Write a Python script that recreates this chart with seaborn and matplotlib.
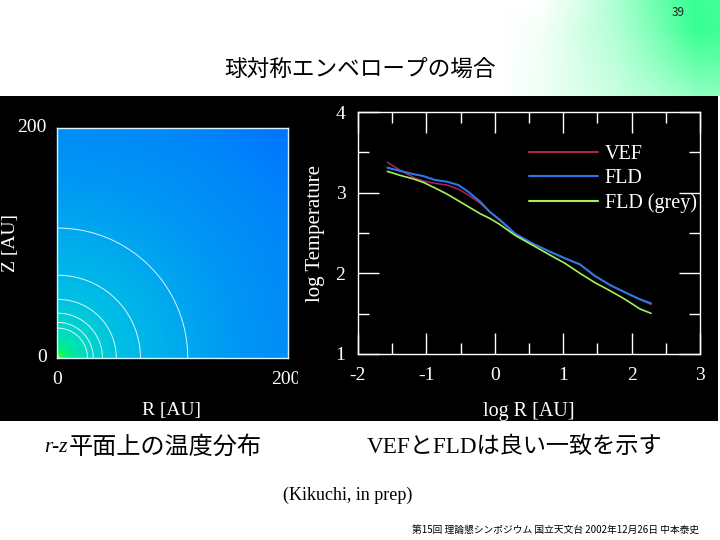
import numpy as np
import pandas as pd
import matplotlib
matplotlib.use("Agg")
import matplotlib.pyplot as plt
from matplotlib.colors import LinearSegmentedColormap
from matplotlib.patches import Rectangle
import seaborn as sns

# ---- data ----
log_r = [-1.57, -1.386, -1.19, -1.045, -0.874, -0.70, -0.533, -0.387, -0.216, -0.07, 0.066,
         0.3, 0.55, 0.807, 1.026, 1.246, 1.465, 1.684, 1.904, 2.123, 2.284]
vef = [3.376, 3.28, 3.19, 3.145, 3.115, 3.095, 3.045, 2.97, 2.87, 2.76, 2.66,
       2.49, 2.37, 2.268, 2.186, 2.11, 1.967, 1.855, 1.764, 1.675, 1.615]
fld = [3.31, 3.27, 3.23, 3.206, 3.157, 3.136, 3.095, 3.01, 2.89, 2.76, 2.67,
       2.49, 2.37, 2.268, 2.186, 2.11, 1.967, 1.855, 1.764, 1.678, 1.628]
grey = [3.264, 3.215, 3.17, 3.128, 3.058, 2.983, 2.90, 2.826, 2.74, 2.68, 2.61,
        2.47, 2.35, 2.227, 2.124, 2.0, 1.884, 1.785, 1.678, 1.558, 1.504]
series_names = ["VEF", "FLD", "FLD (grey)"]
series_colors = ["#b0205e", "#2a78e6", "#a8f05a"]
series_widths = [1.1, 1.5, 1.2]

map_radius = [0, 2, 4, 8, 15, 26, 50, 80, 115, 160, 220, 285]
map_level = [1.0, 0.95, 0.88, 0.78, 0.70, 0.62, 0.53, 0.46, 0.39, 0.3, 0.18, 0.0]
contour_radii = [26, 31, 39, 51, 72, 113]
map_colors = [(0.0, "#0073ff"), (0.3, "#0096f5"), (0.5, "#00bce8"), (0.62, "#00d8c8"),
              (0.75, "#00f090"), (0.88, "#20ff40"), (1.0, "#e8e830")]

bg_x = [500, 540, 580, 620, 660, 695, 720]
bg_y = [0, 30, 60, 96]
bg_green = [[0.00, 0.00, 0.14, 0.35, 0.60, 0.78, 0.72],
            [0.00, 0.04, 0.18, 0.32, 0.55, 0.78, 0.76],
            [0.00, 0.05, 0.16, 0.28, 0.45, 0.62, 0.64],
            [0.00, 0.06, 0.14, 0.22, 0.32, 0.42, 0.45]]

W, H = 720, 540
SERIF = "Liberation Serif"
CJK = ["Noto Sans CJK JP", "DejaVu Sans"]
MIXED = [SERIF, "Noto Sans CJK JP"]

sns.set_theme(style="white", rc={"axes.facecolor": "black", "axes.unicode_minus": False})


def box(l, t, r, b):
    return [l / W, 1 - b / H, (r - l) / W, (b - t) / H]


def ftext(x, y, s, **kw):
    kw.setdefault("va", "center")
    return fig.text(x / W, 1 - y / H, s, **kw)


fig = plt.figure(figsize=(7.2, 5.4), dpi=100, facecolor="white")

# slide background gradient
bg = fig.add_axes(box(500, 0, 720, 96), zorder=0)
g = np.array(bg_green)
rgb = np.dstack([1 - g, np.ones_like(g), 1 - 0.55 * g])
bg.pcolormesh(bg_x, bg_y, rgb, shading="gouraud")
bg.set_ylim(96, 0)
bg.axis("off")

# black panel
fig.patches.append(Rectangle((0, 1 - 421 / H), 718 / W, 325 / H, transform=fig.transFigure,
                             facecolor="black", edgecolor="none", zorder=1))

# ---- left: r-z map ----
ax1 = fig.add_axes(box(57.5, 128, 288, 358), zorder=2)
cmap = LinearSegmentedColormap.from_list("map", map_colors)
fine = np.linspace(0, 200, 401)
FX, FY = np.meshgrid(fine, fine)
rad = np.hypot(FX, FY)
ax1.pcolormesh(FX, FY, np.interp(rad, map_radius, map_level), cmap=cmap, vmin=0, vmax=1, shading="gouraud")
ax1.contour(FX, FY, rad, levels=contour_radii, colors="white", linewidths=0.7, alpha=0.85)
ax1.set_xlim(0, 200)
ax1.set_ylim(0, 200)
ax1.set_xticks([])
ax1.set_yticks([])
for s in ax1.spines.values():
    s.set_color("#d8f4ff")
    s.set_linewidth(1.0)

lab = dict(family=SERIF, color="white", fontsize=14, zorder=5)
ftext(32, 128, "200", ha="center", **lab)
ftext(42, 358, "0", ha="center", **lab)
ftext(57, 380, "0", ha="center", **lab)
t200 = ftext(286, 380, "200", ha="center", **lab)
t200.set_clip_path(Rectangle((0, 0), 298, H, transform=None))
t200.set_clip_on(True)
ftext(172, 410, "R [AU]", ha="center", **lab)
ftext(11, 243, "Z [AU]", ha="center", rotation=90, **lab)

# ---- right: temperature profile ----
ax2 = fig.add_axes(box(358, 112, 700, 354), zorder=2)
df = pd.DataFrame({"log R": log_r * 3,
                   "log T": vef + fld + grey,
                   "model": sum([[n] * len(log_r) for n in series_names], [])})
sns.lineplot(data=df, x="log R", y="log T", hue="model", hue_order=series_names,
             palette=series_colors, ax=ax2, errorbar=None, sort=False)
for line, lw in zip(ax2.get_lines(), series_widths):
    line.set_linewidth(lw)
ax2.set_xlim(-2, 3)
ax2.set_ylim(1, 4)
ax2.set_xticks(range(-2, 4))
ax2.set_yticks(range(1, 5))
ax2.set_xticks(np.arange(-1.5, 3, 1), minor=True)
ax2.set_yticks(np.arange(1.5, 4, 1), minor=True)
ax2.tick_params(which="major", direction="in", length=15, width=1, color="white",
                top=True, right=True, bottom=True, left=True,
                labelcolor="white", labelsize=14, labelfontfamily=SERIF, pad=9)
ax2.tick_params(which="minor", direction="in", length=8, width=1, color="white",
                top=True, right=True, bottom=True, left=True)
ax2.set_xlabel("log R [AU]", family=SERIF, color="white", fontsize=14.5, labelpad=13)
ax2.set_ylabel("log Temperature", family=SERIF, color="white", fontsize=15, labelpad=8)
for s in ax2.spines.values():
    s.set_color("white")
    s.set_linewidth(1.0)
leg = ax2.legend(frameon=False, loc="upper left", bbox_to_anchor=(0.50, 0.862), borderpad=0, borderaxespad=0,
                 handlelength=3.45, handletextpad=0.3, labelspacing=0.24,
                 prop={"family": SERIF, "size": 14.5})
for t in leg.get_texts():
    t.set_color("white")

# ---- slide text ----
ftext(360, 69, "球対称エンベロープの場合", ha="center", family=CJK, fontsize=16.3, color="black")
ftext(44, 447, "r-z", ha="left", family=SERIF, style="italic", fontsize=15.5, color="black")
ftext(69, 447, "平面上の温度分布", ha="left", family=CJK, fontsize=17.4, color="black")
ftext(367, 447, "VEFとFLDは良い一致を示す", ha="left", family=MIXED, fontsize=16.7, color="black")
ftext(348, 495, "(Kikuchi, in prep)", ha="center", family=SERIF, fontsize=13, color="black")
ftext(699, 530, "第15回 理論懇シンポジウム 国立天文台 2002年12月26日 中本泰史", ha="right", family=CJK, fontsize=7, color="black")
ftext(678, 12, "39", ha="center", family=CJK, fontsize=8.5, color="#222222")

fig.savefig("out.png", dpi=100, facecolor="white")
